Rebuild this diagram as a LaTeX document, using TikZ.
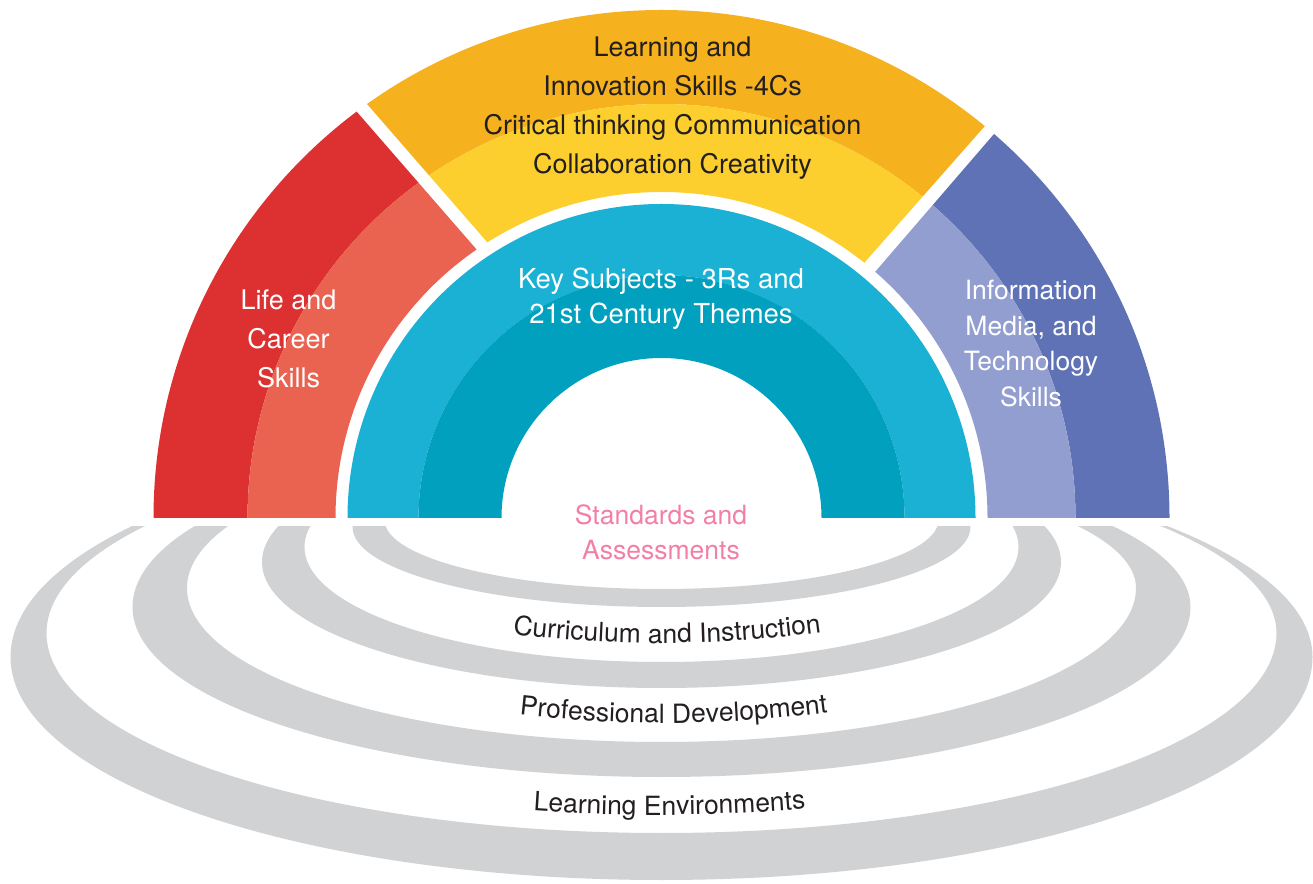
\documentclass[tikz,border=0pt]{standalone}
\usepackage{fontspec}
\setmainfont{TeX Gyre Heros}
\usetikzlibrary{decorations.text}
\definecolor{dred}{HTML}{DD3131}
\definecolor{lred}{HTML}{EA6250}
\definecolor{dyel}{HTML}{F5B21E}
\definecolor{lyel}{HTML}{FCCF2E}
\definecolor{dblu}{HTML}{5F72B6}
\definecolor{lblu}{HTML}{939ED0}
\definecolor{cyanc}{HTML}{1AB1D4}
\definecolor{dcyan}{HTML}{00A0BE}
\definecolor{grayc}{HTML}{D1D2D4}
\definecolor{pinkc}{HTML}{F27FA6}
\definecolor{txtd}{HTML}{231F20}
% half annulus centred at (661.5,365): inner radius #1, outer radius #2
\newcommand\rbann[2]{({661.5+#2},365) arc[start angle=0,end angle=180,radius=#2pt] -- ({661.5-#1},365) arc[start angle=180,end angle=0,radius=#1pt] -- cycle}
% ellipse-like closed path: centre (#1,#2), half width #3, lower half height #4, upper-left #5, upper-right #6
\newcommand\grayell[6]{({#1+#3},#2) arc[start angle=0,end angle=90,x radius=#3pt,y radius=#6pt] -- (#1,{#2+#5}) arc[start angle=90,end angle=180,x radius=#3pt,y radius=#5pt] arc[start angle=180,end angle=360,x radius=#3pt,y radius=#4pt] -- cycle}
\begin{document}
\begin{tikzpicture}[x=1pt,y=1pt,
  lbl/.style={font=\fontsize{26.5}{30}\selectfont, anchor=base, inner sep=0pt},
  lblbig/.style={font=\fontsize{27}{30}\selectfont, anchor=base, inner sep=0pt},
  lblkey/.style={font=\fontsize{27.5}{30}\selectfont, anchor=base, inner sep=0pt},
  band/.style={fill=grayc, even odd rule}]
\useasboundingbox (0,0) rectangle (1313,883);

% ---- outer ring: red segment
\begin{scope}
\clip (297,840) -- (657,426) -- (657,300) -- (0,300) -- (0,840) -- cycle;
\fill[dred] \rbann{414}{508};
\fill[lred] \rbann{326}{414};
\end{scope}
% ---- yellow segment
\begin{scope}
\clip (247,917) -- (607,503) -- (746,486) -- (1103,891) -- cycle;
\fill[dyel] \rbann{414}{508};
\fill[lyel] \rbann{326}{414};
\end{scope}
% ---- blue segment
\begin{scope}
\clip (1113,887) -- (696.5,404) -- (696.5,300) -- (1313,300) -- (1313,887) -- cycle;
\fill[dblu] \rbann{414}{508};
\fill[lblu] \rbann{326}{414};
\end{scope}
% ---- cyan ring
\fill[cyanc] \rbann{243}{314};
\fill[dcyan] \rbann{160}{243};

% ---- gray bands
\begin{scope}
\clip (0,0) rectangle (1313,356);
\fill[band] \grayell{661.5}{226}{651}{223}{225}{208} \grayell{661.5}{250}{615}{200}{197}{183};
\fill[band] \grayell{661.5}{276}{529}{170}{172}{155} \grayell{661.5}{295}{474.5}{154}{152}{129};
\fill[band] \grayell{661.5}{321}{399.5}{126}{126}{126} \grayell{661.5}{336}{357}{115}{115}{115};
\fill[band] \grayell{661.5}{356}{309}{80}{80}{80} \grayell{661.5}{363}{277}{69}{69}{69};
\end{scope}

% ---- texts in the rainbow
\node[lblbig, text=txtd] (y1) at (672.5,826) {Learning and};
\node[lblbig, text=txtd] (y2) at (672.5,787) {Innovation Skills -4Cs};
\node[lblbig, text=txtd] (y3) at (672.5,748) {Critical thinking Communication};
\node[lblbig, text=txtd] (y4) at (672.5,709) {Collaboration Creativity};

\node[lblkey, text=white] (k1) at (661,594) {Key Subjects - 3Rs and};
\node[lblkey, text=white] (k2) at (661,559) {21st Century Themes};

\node[lblbig, text=white] (l1) at (288.5,573) {Life and};
\node[lblbig, text=white] (l2) at (288.5,534) {Career};
\node[lblbig, text=white] (l3) at (288.5,495) {Skills};

\node[lbl, text=white] (i1) at (1031,583) {Information};
\node[lbl, text=white] (i2) at (1031,547.5) {Media, and};
\node[lbl, text=white] (i3) at (1031,512) {Technology};
\node[lbl, text=white] (i4) at (1031,476.5) {Skills};

\node[lbl, text=pinkc] (s1) at (661,358) {Standards and};
\node[lbl, text=pinkc] (s2) at (661,323) {Assessments};

% ---- curved labels on the gray bands
\path[decorate, decoration={text along path, text align=center, text color=txtd,
  text={|\fontsize{26.5}{30}\selectfont|Curriculum and Instruction}}]
  (487,252.3) .. controls (607,235.1) and (727,235.9) .. (847,254.6);
\path[decorate, decoration={text along path, text align=center, text color=txtd,
  text={|\fontsize{26.5}{30}\selectfont|Professional Development}}]
  (495,171.0) .. controls (614,155.6) and (733,156.3) .. (852,173.3);
\path[decorate, decoration={text along path, text align=center, text color=txtd,
  text={|\fontsize{26.5}{30}\selectfont|Learning Environments}}]
  (510,73.8) .. controls (616.3,65.3) and (722.7,66.0) .. (829,76.2);
\end{tikzpicture}
\end{document}
